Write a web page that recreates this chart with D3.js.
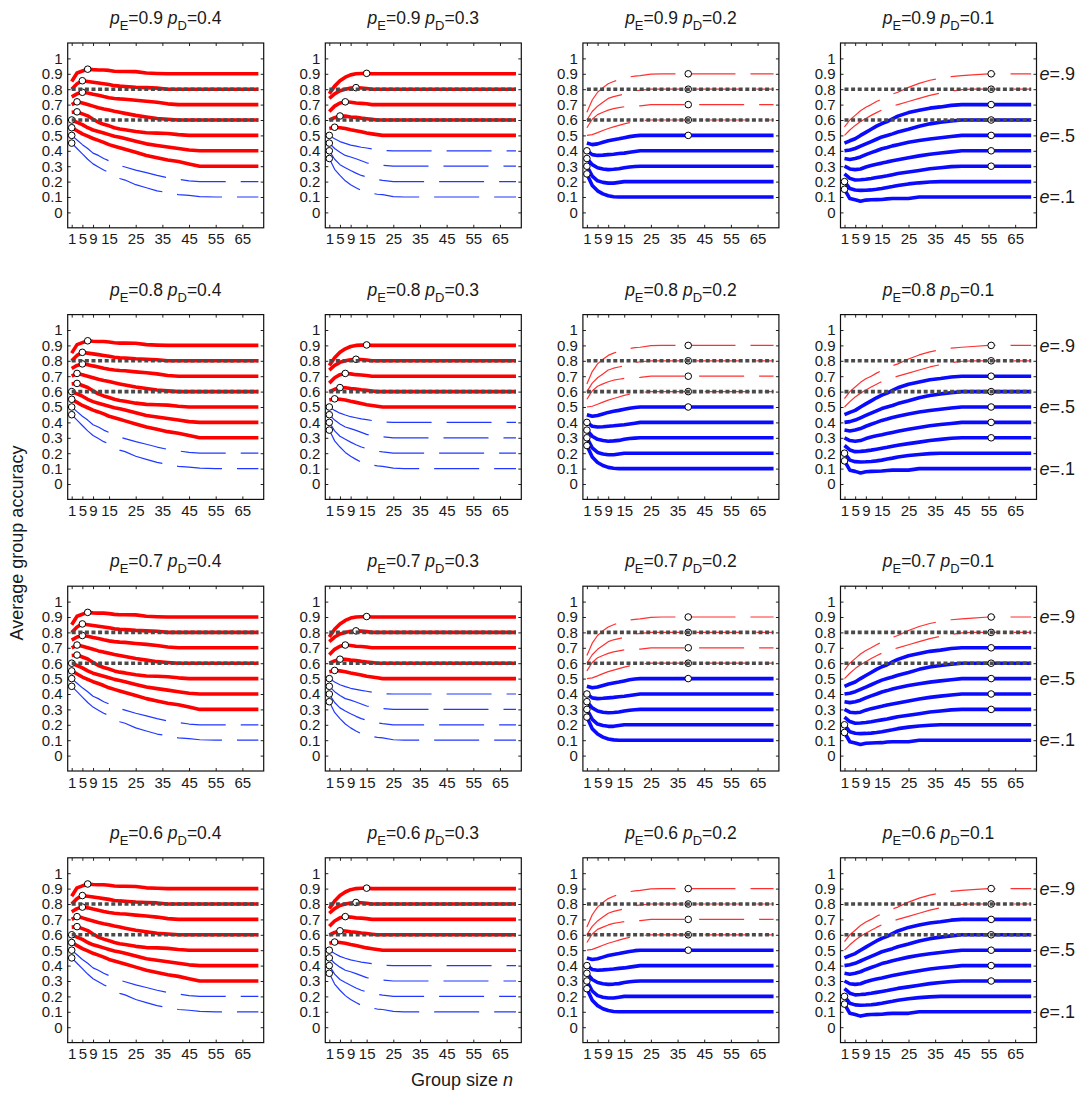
<!DOCTYPE html>
<html>
<head>
<meta charset="utf-8">
<script src="https://cdn.jsdelivr.net/npm/d3@7"></script>
<style>
  body { margin: 0; background: #fff; }
  svg { display: block; }
  text { font-family: "Liberation Sans", Arial, sans-serif; fill: #1a1a1a; }
</style>
</head>
<body>
<svg id="chart" width="1083" height="1098"></svg>
<script>
// Group sizes at which average accuracy was evaluated
const groupSizes = [1, 3, 5, 7, 9, 11, 13, 15, 17, 19, 21, 25, 29, 33, 37, 41, 45, 49, 55, 61, 71];
// Share of experts in the group
const expertShares = [0.1, 0.2, 0.3, 0.4, 0.5, 0.6, 0.7, 0.8, 0.9];
// Expert accuracy (rows) and non-expert accuracy (columns)
const pExpert = [0.9, 0.8, 0.7, 0.6];
const pNonExpert = [0.4, 0.3, 0.2, 0.1];

// Average group accuracy, one list per expert share (e = .1 ... .9)
const accuracyPD04 = [
  [.45,.415,.38,.345,.315,.295,.275,.26,.24,.22,.21,.18,.16,.14,.128,.115,.11,.103,.10,.10,.10],
  [.50,.47,.44,.415,.385,.37,.35,.335,.32,.305,.295,.275,.258,.24,.225,.215,.205,.20,.20,.20,.20],
  [.55,.53,.51,.495,.48,.468,.455,.44,.43,.42,.41,.39,.37,.355,.34,.33,.315,.30,.30,.30,.30],
  [.60,.585,.57,.55,.535,.525,.515,.505,.495,.488,.48,.462,.445,.435,.425,.415,.405,.40,.40,.40,.40],
  [.65,.653,.64,.627,.605,.585,.572,.562,.55,.542,.537,.525,.517,.515,.512,.505,.50,.50,.50,.50,.50],
  [.70,.718,.71,.70,.69,.68,.672,.665,.657,.65,.643,.63,.62,.61,.605,.60,.60,.60,.60,.60,.60],
  [.75,.77,.78,.775,.767,.76,.752,.745,.74,.737,.735,.728,.722,.715,.705,.70,.70,.70,.70,.70,.70],
  [.80,.835,.855,.85,.845,.84,.835,.83,.823,.82,.818,.813,.81,.807,.80,.80,.80,.80,.80,.80,.80],
  [.85,.905,.918,.93,.927,.925,.925,.922,.917,.915,.915,.914,.905,.902,.90,.90,.90,.90,.90,.90,.90]
];
const accuracyPD03 = [
  [.35,.28,.24,.205,.18,.16,.142,.132,.124,.118,.115,.103,.10,.10,.10,.10,.10,.10,.10,.10,.10],
  [.40,.345,.31,.29,.272,.255,.24,.23,.22,.213,.208,.20,.20,.20,.20,.20,.20,.20,.20,.20,.20],
  [.45,.415,.39,.37,.36,.348,.335,.322,.315,.31,.306,.30,.30,.30,.30,.30,.30,.30,.30,.30,.30],
  [.50,.478,.46,.448,.437,.43,.423,.418,.412,.405,.402,.40,.40,.40,.40,.40,.40,.40,.40,.40,.40],
  [.545,.553,.55,.545,.537,.53,.523,.515,.51,.505,.50,.50,.50,.50,.50,.50,.50,.50,.50,.50,.50],
  [.60,.615,.626,.625,.62,.617,.612,.608,.604,.60,.60,.60,.60,.60,.60,.60,.60,.60,.60,.60,.60],
  [.655,.69,.71,.718,.715,.71,.708,.705,.70,.70,.70,.70,.70,.70,.70,.70,.70,.70,.70,.70,.70],
  [.74,.77,.79,.80,.807,.81,.808,.805,.80,.80,.80,.80,.80,.80,.80,.80,.80,.80,.80,.80,.80],
  [.77,.82,.855,.878,.893,.90,.902,.903,.90,.90,.90,.90,.90,.90,.90,.90,.90,.90,.90,.90,.90]
];
const accuracyPD02 = [
  [.25,.175,.14,.12,.108,.102,.10,.10,.10,.10,.10,.10,.10,.10,.10,.10,.10,.10,.10,.10,.10],
  [.30,.235,.205,.195,.19,.19,.195,.20,.20,.20,.20,.20,.20,.20,.20,.20,.20,.20,.20,.20,.20],
  [.35,.31,.29,.282,.278,.28,.283,.29,.295,.298,.30,.30,.30,.30,.30,.30,.30,.30,.30,.30,.30],
  [.40,.375,.37,.372,.375,.378,.382,.385,.39,.395,.40,.40,.40,.40,.40,.40,.40,.40,.40,.40,.40],
  [.45,.44,.445,.455,.465,.472,.478,.485,.492,.497,.50,.50,.50,.50,.50,.50,.50,.50,.50,.50,.50],
  [.50,.505,.518,.532,.545,.555,.565,.575,.583,.59,.595,.60,.60,.60,.60,.60,.60,.60,.60,.60,.60],
  [.55,.605,.635,.65,.664,.674,.68,.686,.688,.69,.692,.70,.70,.70,.70,.70,.70,.70,.70,.70,.70],
  [.60,.655,.69,.715,.74,.752,.76,.768,.778,.788,.794,.80,.80,.80,.80,.80,.80,.80,.80,.80,.80],
  [.65,.73,.78,.81,.835,.85,.862,.872,.88,.885,.888,.898,.90,.90,.90,.90,.90,.90,.90,.90,.90]
];
const accuracyPD01 = [
  [.15,.09,.082,.072,.08,.082,.083,.084,.088,.09,.09,.09,.10,.10,.10,.10,.10,.10,.10,.10,.10],
  [.20,.155,.145,.143,.144,.146,.15,.155,.162,.168,.175,.185,.192,.197,.20,.20,.20,.20,.20,.20,.20],
  [.25,.221,.21,.212,.215,.22,.226,.232,.238,.245,.252,.262,.272,.283,.29,.297,.30,.30,.30,.30,.30],
  [.30,.282,.278,.282,.295,.305,.313,.32,.328,.335,.342,.355,.367,.378,.386,.393,.40,.40,.40,.40,.40],
  [.35,.344,.35,.36,.375,.388,.40,.413,.422,.432,.44,.455,.467,.477,.485,.493,.50,.50,.50,.50,.50],
  [.40,.405,.415,.43,.445,.46,.475,.49,.50,.51,.522,.54,.56,.575,.585,.593,.60,.60,.60,.60,.60],
  [.45,.465,.478,.50,.52,.54,.56,.577,.59,.608,.625,.648,.663,.677,.685,.695,.70,.70,.70,.70,.70],
  [.50,.535,.565,.59,.61,.63,.648,.665,.678,.69,.70,.72,.74,.76,.775,.787,.797,.80,.80,.80,.80],
  [.555,.60,.63,.66,.683,.70,.72,.737,.752,.768,.78,.812,.838,.858,.872,.882,.888,.893,.90,.90,.90]
];
const accuracyByColumn = [accuracyPD04, accuracyPD03, accuracyPD02, accuracyPD01];

// Group size with the highest accuracy, per expert share
const optimumPD04 = [1, 1, 1, 1, 3, 3, 5, 5, 7];
const optimumPD03 = [1, 1, 1, 1, 3, 5, 7, 11, 15];
const optimumPD02 = [1, 1, 1, 1, 39, 39, 39, 39, 39];
const optimumPD01 = [1, 1, 56, 56, 56, 56, 56, 56, 56];
const optimumByColumn = [optimumPD04, optimumPD03, optimumPD02, optimumPD01];

// Expert share from which a curve counts as expert-led (red)
const redFromShare = [0.3, 0.5, 0.6, 0.8];
// Whether the red curves are the emphasised ones in each column
const emphasiseRed = [true, true, false, false];

const referenceLevels = [0.6, 0.8];
const xTickValues = [1, 5, 9, 15, 25, 35, 45, 55, 65];
const yTickValues = [0, 0.1, 0.2, 0.3, 0.4, 0.5, 0.6, 0.7, 0.8, 0.9, 1];
const sideLabelShares = [0.9, 0.5, 0.1];

// ---- layout ----
const svg = d3.select("#chart");
const panelW = 196, panelH = 184.8;
const left0 = 67.7, colStep = 257.6;
const top0 = 43, rowStep = 271.6;

const x = d3.scaleLinear().domain([-0.5, 73]).range([0, panelW]);
const y = d3.scaleLinear().domain([-0.1, 1.1]).range([panelH, 0]);

const line = d3.line()
  .x(d => x(d[0]))
  .y(d => y(d[1]));

const fmtY = v => v === 0 ? "0" : v === 1 ? "1" : v.toFixed(1);
const valueAt = (vals, n) => {
  const i = d3.bisectLeft(groupSizes, n);
  if (groupSizes[i] === n) return vals[i];
  const n0 = groupSizes[i - 1], n1 = groupSizes[i];
  return vals[i - 1] + (vals[i] - vals[i - 1]) * (n - n0) / (n1 - n0);
};

pExpert.forEach((pE, r) => {
  pNonExpert.forEach((pD, c) => {
    const g = svg.append("g")
      .attr("transform", `translate(${left0 + c * colStep},${top0 + r * rowStep})`);

    // panel title
    const t = g.append("text")
      .attr("x", panelW / 2).attr("y", -19)
      .attr("text-anchor", "middle")
      .style("font-size", "17.5px");
    t.append("tspan").style("font-style", "italic").text("p");
    t.append("tspan").attr("dy", 6).style("font-size", "13px").text("E");
    t.append("tspan").attr("dy", -6).text(`=${pE} `);
    t.append("tspan").style("font-style", "italic").text("p");
    t.append("tspan").attr("dy", 6).style("font-size", "13px").text("D");
    t.append("tspan").attr("dy", -6).text(`=${pD}`);

    // axes with inward ticks on all four sides
    const axL = g.append("g").call(d3.axisLeft(y).tickValues(yTickValues).tickSize(-3).tickPadding(5).tickFormat(fmtY));
    const axR = g.append("g").attr("transform", `translate(${panelW},0)`)
      .call(d3.axisRight(y).tickValues(yTickValues).tickSize(-3).tickFormat(""));
    const axB = g.append("g").attr("transform", `translate(0,${panelH})`)
      .call(d3.axisBottom(x).tickValues(xTickValues).tickSize(-3).tickPadding(6));
    const axT = g.append("g")
      .call(d3.axisTop(x).tickValues(xTickValues).tickSize(-3).tickFormat(""));
    [axL, axR, axB, axT].forEach(a => {
      a.select(".domain").remove();
      a.selectAll("line").attr("stroke", "#222").attr("stroke-width", 1);
      a.selectAll("text").style("font-size", "15px").style("font-family", "'Liberation Sans', Arial, sans-serif").attr("fill", "#1a1a1a");
    });

    // curves
    const curves = accuracyByColumn[c];
    curves.forEach((vals, k) => {
      const e = expertShares[k];
      const red = e >= redFromShare[c] - 1e-9;
      const thick = red === emphasiseRed[c];
      const pts = groupSizes.map((n, i) => [n, vals[i]]);
      g.append("path")
        .attr("d", line(pts))
        .attr("fill", "none")
        .attr("stroke", red ? (thick ? "#ff0000" : "#ff3030") : (thick ? "#0a0aff" : "#2038ff"))
        .attr("stroke-width", thick ? 3.6 : 1.2)
        .attr("stroke-linejoin", "round")
        .attr("stroke-dasharray", thick ? null : "45,15");
    });

    // optimal group size markers
    optimumByColumn[c].forEach((n, k) => {
      g.append("circle")
        .attr("cx", x(n))
        .attr("cy", y(valueAt(curves[k], n)))
        .attr("r", 3.3)
        .attr("fill", "#fff")
        .attr("stroke", "#000")
        .attr("stroke-width", 1);
    });

    // reference levels
    referenceLevels.forEach(v => {
      g.append("line")
        .attr("x1", x(1)).attr("x2", x(71))
        .attr("y1", y(v)).attr("y2", y(v))
        .attr("stroke", "#4a4a4a")
        .attr("stroke-width", 3.6)
        .attr("stroke-dasharray", "4,2.6");
    });

    // frame
    g.append("rect")
      .attr("width", panelW).attr("height", panelH)
      .attr("fill", "none").attr("stroke", "#111").attr("stroke-width", 1.2);

    // expert share labels beside the last column
    if (c === pNonExpert.length - 1) {
      sideLabelShares.forEach(e => {
        const lt = g.append("text")
          .attr("x", panelW + 3)
          .attr("y", y(e))
          .attr("dy", "0.35em")
          .style("font-size", "18px");
        lt.append("tspan").style("font-style", "italic").text("e");
        lt.append("tspan").text("=" + String(e).replace("0.", "."));
      });
    }
  });
});

// axis titles
svg.append("text")
  .attr("transform", "translate(23,543) rotate(-90)")
  .attr("text-anchor", "middle")
  .style("font-size", "18px")
  .text("Average group accuracy");

const xt = svg.append("text")
  .attr("x", 462).attr("y", 1086)
  .attr("text-anchor", "middle")
  .style("font-size", "18px");
xt.append("tspan").text("Group size ");
xt.append("tspan").style("font-style", "italic").text("n");
</script>
</body>
</html>
